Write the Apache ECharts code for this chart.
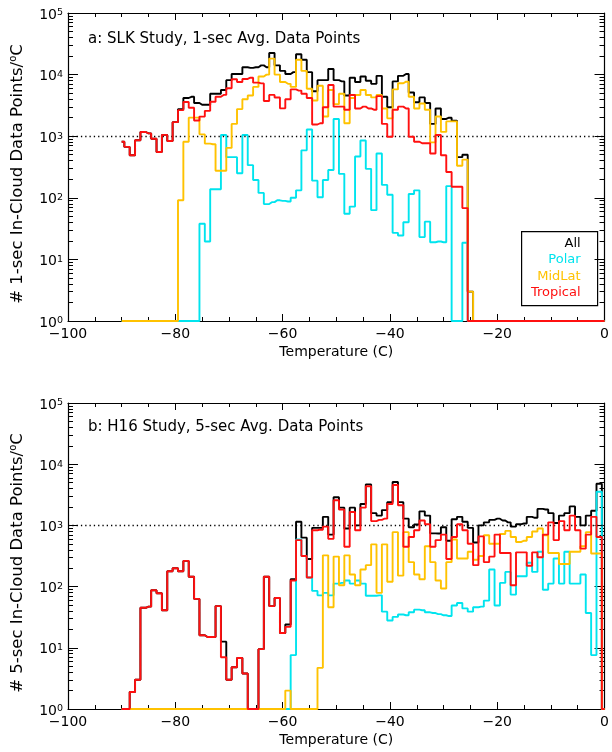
<!DOCTYPE html>
<html>
<head>
<meta charset="utf-8">
<script src="https://cdn.jsdelivr.net/npm/echarts@6.0.0/dist/echarts.min.js"></script>
<style>
  html, body { margin: 0; padding: 0; background: #fff; }
  #chart { width: 612px; height: 752px; }
</style>
</head>
<body>
<div id="chart"></div>
<script>
// ---------------- data (counts per 1 degC bin, bins centred on integer temperatures) ----------------
const TEMPS = [
  -90,-89,-88,-87,-86,-85,-84,-83,-82,-81,
  -80,-79,-78,-77,-76,-75,-74,-73,-72,-71,
  -70,-69,-68,-67,-66,-65,-64,-63,-62,-61,
  -60,-59,-58,-57,-56,-55,-54,-53,-52,-51,
  -50,-49,-48,-47,-46,-45,-44,-43,-42,-41,
  -40,-39,-38,-37,-36,-35,-34,-33,-32,-31,
  -30,-29,-28,-27,-26,-25,-24,-23,-22,-21,
  -20,-19,-18,-17,-16,-15,-14,-13,-12,-11,
  -10,-9,-8,-7,-6,-5,-4,-3,-2,-1,
  0
];

// Panel a: SLK study, 1-sec points
const SLK_ALL = [
  813,670,490,860,1170,1110,910,555,1050,835,
  1690,2740,4170,4365,3467,3236,3236,4898,4898,5623,
  8128,10233,10233,13183,12882,13183,14125,13183,22387,14125,
  11482,10233,10965,21380,17378,10965,5370,8128,8128,12303,
  8128,7762,4571,8913,7586,9333,7943,7079,9550,4365,
  2951,7762,9550,10233,5129,3548,4266,3467,1585,2818,
  1905,1995,1778,457,501,3,0,0,0,0,
  0,0,0,0,0,0,0,0,0,0,
  0,0,0,0,0,0,0,0,0,0,
  0
];
const SLK_POLAR = [
  0,0,0,0,0,0,0,0,0,0,
  0,0,0,0,0,38,19.5,138,138,1047,
  457,457,251,1047,339,195,120,79,85,91,
  89,87,100,132,589,1288,190,102,195,282,
  1905,245,55,72,468,851,295,63,525,162,
  112,27,24.5,40,115,132,23,41,19,19.5,
  19,155,0,0,18.6,0,0,0,0,0,
  0,0,0,0,0,0,0,0,0,0,
  0,0,0,0,0,0,0,0,0,0,
  0
];
const SLK_MIDLAT = [
  0,0,0,0,0,0,0,0,0,0,
  0,91,813,2000,2000,1072,759,741,275,275,
  646,1585,2754,3981,4571,6310,9333,10000,18197,10000,
  7586,7079,6310,17378,11482,5888,3802,6607,2089,5623,
  3311,4898,1622,4169,4677,5623,4677,4266,4677,2818,
  1950,5754,7244,7674,4365,2818,3388,2692,794,2089,
  1175,1738,1738,331,417,3,0,0,0,0,
  0,0,0,0,0,0,0,0,0,0,
  0,0,0,0,0,0,0,0,0,0,
  0
];
const SLK_TROPICAL = [
  813,670,490,860,1170,1110,910,555,1050,835,
  1690,2650,3600,2900,1800,2080,2580,3630,4370,4680,
  6000,8400,7600,8500,8900,7400,7200,3730,4680,4250,
  2830,3981,5754,5495,4898,4169,1549,1622,2951,6761,
  3020,3020,2692,4677,2818,3020,2818,2692,4467,1585,
  977,2692,3020,2818,977,813,767,767,525,1047,
  490,263,151,151,68,0,0,0,0,0,
  0,0,0,0,0,0,0,0,0,0,
  0,0,0,0,0,0,0,0,0,0,
  0
];

// Panel b: H16 study, 5-sec points
const H16_ALL = [
  0,0,1.9,3,45,47,87,78,41,178,
  200,178,263,145,63,16,15,15,48,12.6,
  3,4.8,6.8,3.8,0,0,9.5,145,48,65,
  17.5,24,132,1148,631,282,912,912,1380,708,
  2884,1950,891,1950,1000,2239,4677,1585,1445,1778,
  2399,5129,2399,1288,935,1032,1698,1445,741,737,
  933,562,1259,1380,1148,912,525,1000,1122,1230,
  1288,1202,1122,955,1047,1073,1380,1331,1862,1820,
  1585,1096,1445,1585,2042,1380,1000,1445,1738,4786,
  0
];
const H16_POLAR = [
  0,0,0,0,0,0,0,0,0,0,
  0,0,0,0,0,0,0,0,0,0,
  0,0,0,0,0,0,0,0,0,0,
  0,0,7.6,589,316,141,85,72,79,72,
  112,115,126,112,126,112,71,71,72,39,
  28,32,35,34,38,42,41,38,37,35.5,
  34,33,49,54,44,39,46,47,59,190,
  49,115,174,74,148,148,245,174,372,89,
  112,288,112,372,112,112,158,37,7.6,3548,
  0
];
const H16_MIDLAT = [
  0,0,0,0,0,0,0,0,0,0,
  0,0,0,0,0,0,0,0,0,0,
  0,0,0,0,0,0,0,0,0,0,
  0,2,0,0,0,0,0,4.7,324,46,
  309,105,324,158,105,190,224,490,79,490,
  120,776,151,776,251,158,132,457,251,126,
  93,251,589,288,288,372,275,316,692,501,
  501,724,813,646,537,562,646,794,891,692,
  355,355,234,234,372,372,457,776,347,347,
  0
];
const H16_TROPICAL = [
  0,0,1.9,3,45,47,87,78,41,178,
  200,178,263,145,63,16,15,15,48,7,
  3,4.8,6.8,3.8,0,0,9.5,145,48,65,
  17.5,22,126,575,316,141,832,851,955,603,
  2570,1820,447,1660,832,1950,4365,1175,1230,1288,
  2239,4571,2138,447,646,832,1202,1047,447,575,
  708,282,646,1047,832,501,224,661,251,309,
  708,355,355,105,363,363,219,363,302,708,
  1122,575,1175,832,1445,832,417,708,1380,646,
  0
];

const SERIES_NAMES = ['All', 'Polar', 'MidLat', 'Tropical'];
const Y_TICK_DECADES = [1, 10, 100, 1000, 10000, 100000];
const X_TICK_LABELS = [-100, -80, -60, -40, -20, 0];
const REF_LEVEL = 1000;

// ---------------- styling ----------------
const FONT = 'DejaVu Sans';
const COLORS = { All: '#000000', Polar: '#00e4ee', MidLat: '#ffc200', Tropical: '#ff1010' };
const Y_MIN = 1, Y_MAX = 100000;

// log-spaced minor tick positions (2..9 within each decade)
const MINOR = [];
for (let d = 1; d < Y_MAX; d *= 10) for (let k = 2; k <= 9; k++) MINOR.push(k * d);

// Zero-count bins cannot sit on a log axis: they are drawn on the axis floor, as in the original plot.
function toPairs(vals) {
  return TEMPS.map((t, i) => [t, vals[i] > 0 ? vals[i] : Y_MIN]);
}

const GRIDS = [
  { left: 63, top: 13, width: 543, height: 308 },
  { left: 63, top: 403, width: 543, height: 306 }
];

function xAxesFor(gi) {
  const common = {
    gridIndex: gi, type: 'value', min: -100, max: 0, interval: 20,
    axisLine: { onZero: false, lineStyle: { color: '#000', width: 1.2 } },
    axisTick: { inside: true, length: 7, lineStyle: { color: '#000', width: 1 } },
    minorTick: { show: true, splitNumber: 4, length: 4, lineStyle: { color: '#000', width: 1 } },
    splitLine: { show: false }, minorSplitLine: { show: false }
  };
  return [
    Object.assign({}, common, {
      position: 'bottom',
      axisLabel: {
        margin: 6, color: '#000', fontFamily: FONT, fontSize: 14,
        customValues: X_TICK_LABELS,
        formatter: v => String(v).replace('-', '\u2212')
      },
      name: 'Temperature (C)', nameLocation: 'middle', nameGap: 24,
      nameTextStyle: { color: '#000', fontFamily: FONT, fontSize: 14 }
    }),
    Object.assign({}, common, { position: 'top', axisLabel: { show: false } })
  ];
}

function yAxesFor(gi, title) {
  const base = {
    gridIndex: gi, type: 'log', logBase: 10, min: Y_MIN, max: Y_MAX,
    splitLine: { show: false }, minorTick: { show: false }, minorSplitLine: { show: false }
  };
  const line = { show: true, onZero: false, lineStyle: { color: '#000', width: 1.2 } };
  const noline = { show: false, onZero: false };
  return [
    Object.assign({}, base, {
      position: 'left', axisLine: line,
      axisTick: { inside: true, length: 10, customValues: Y_TICK_DECADES, lineStyle: { color: '#000' } },
      axisLabel: {
        customValues: Y_TICK_DECADES, margin: 5, color: '#000', padding: [4, 0, 0, 0],
        formatter: v => '{b|10}{sup|' + Math.round(Math.log10(v)) + '}',
        rich: {
          b: { fontFamily: FONT, fontSize: 14, lineHeight: 14, verticalAlign: 'bottom', color: '#000' },
          sup: { fontFamily: FONT, fontSize: 9.5, lineHeight: 9.5, padding: [0, 0, 9, 0], verticalAlign: 'top', color: '#000' }
        }
      },
      name: title, nameLocation: 'middle', nameGap: 41, nameRotate: 90,
      nameTextStyle: {
        color: '#000', fontFamily: FONT, fontSize: 16.5, padding: [0, 14, 0, 0],
        rich: { sup: { fontFamily: FONT, fontSize: 10, padding: [0, 0, 9, 0], color: '#000' } }
      }
    }),
    Object.assign({}, base, {
      position: 'left', axisLine: noline, axisLabel: { show: false },
      axisTick: { inside: true, length: 5, customValues: MINOR, lineStyle: { color: '#000' } }
    }),
    Object.assign({}, base, {
      position: 'right', axisLine: line, axisLabel: { show: false },
      axisTick: { inside: true, length: 10, customValues: Y_TICK_DECADES, lineStyle: { color: '#000' } }
    }),
    Object.assign({}, base, {
      position: 'right', axisLine: noline, axisLabel: { show: false },
      axisTick: { inside: true, length: 5, customValues: MINOR, lineStyle: { color: '#000' } }
    })
  ];
}

function panelSeries(gi, arrays) {
  return SERIES_NAMES.map((name, k) => {
    const s = {
      name: name, type: 'line', step: 'middle',
      xAxisIndex: gi * 2, yAxisIndex: gi * 4,
      data: toPairs(arrays[k]),
      showSymbol: false, symbol: 'none', clip: false,
      lineStyle: { color: COLORS[name], width: 1.9 },
      itemStyle: { color: COLORS[name] },
      z: 3 + k, animation: false, silent: true
    };
    if (k === 0) {
      s.markLine = {
        silent: true, symbol: 'none', animation: false,
        label: { show: false },
        lineStyle: { color: '#000', type: [1.3, 3], width: 1.3 },
        data: [{ yAxis: REF_LEVEL }]
      };
    }
    return s;
  });
}

const chart = echarts.init(document.getElementById('chart'), null, { renderer: 'canvas' });

const option = {
  backgroundColor: '#fff',
  animation: false,
  textStyle: { fontFamily: FONT },
  title: [
    { text: 'a: SLK Study, 1-sec Avg. Data Points', left: 88, top: 32, padding: 0,
      textStyle: { fontFamily: FONT, fontSize: 15, fontWeight: 'normal', color: '#000' } },
    { text: 'b: H16 Study, 5-sec Avg. Data Points', left: 88, top: 420, padding: 0,
      textStyle: { fontFamily: FONT, fontSize: 15, fontWeight: 'normal', color: '#000' } }
  ],
  grid: GRIDS,
  xAxis: xAxesFor(0).concat(xAxesFor(1)),
  yAxis: yAxesFor(0, '# 1-sec In-Cloud Data Points/{sup|o}C')
    .concat(yAxesFor(1, '# 5-sec In-Cloud Data Points/{sup|o}C')),
  series: panelSeries(0, [SLK_ALL, SLK_POLAR, SLK_MIDLAT, SLK_TROPICAL])
    .concat(panelSeries(1, [H16_ALL, H16_POLAR, H16_MIDLAT, H16_TROPICAL])),
  graphic: [
    {
      type: 'group', left: 521, top: 231, z: 100,
      children: [
        { type: 'rect', shape: { x: 0, y: 0, width: 76, height: 74 },
          style: { fill: '#fff', stroke: '#000', lineWidth: 1.2 } }
      ].concat(SERIES_NAMES.map((name, k) => ({
        type: 'text', x: 59, y: 12 + k * 16.4,
        style: { text: name, fill: COLORS[name], align: 'right', verticalAlign: 'middle',
                 font: '13px "DejaVu Sans"' }
      })))
    }
  ]
};

chart.setOption(option);
</script>
</body>
</html>
